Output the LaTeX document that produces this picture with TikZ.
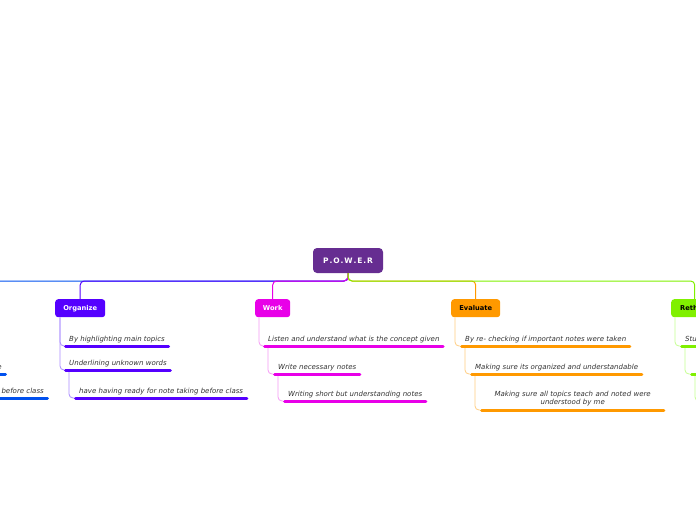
\documentclass[tikz,border=0pt]{standalone}
\usepackage{fontspec}
\setmainfont{DejaVu Sans}
\definecolor{rootc}{HTML}{662D91}
\definecolor{orgc}{HTML}{5500FF}
\definecolor{orgl}{HTML}{A98BFF}
\definecolor{workc}{HTML}{E800E8}
\definecolor{workl}{HTML}{F59AF5}
\definecolor{evalc}{HTML}{FF9900}
\definecolor{evall}{HTML}{FFCC80}
\definecolor{rethc}{HTML}{80F000}
\definecolor{rethl}{HTML}{C4FF90}
\definecolor{prepc}{HTML}{0050EE}
\definecolor{txt}{HTML}{333333}
\tikzset{
  branchbox/.style={rounded corners=3pt, minimum height=18pt, inner xsep=4pt, inner ysep=0pt,
    font=\bfseries\fontsize{6.7}{8}\selectfont, anchor=north west},
  itembase/.style={anchor=south west, inner xsep=5pt, inner ysep=3pt,
    font=\itshape\fontsize{7}{9}\selectfont, text=txt},
  item/.style={itembase, text depth=1.6pt},
  uline/.style={line width=3pt, line cap=round, shorten <=1.5pt, shorten >=1.5pt},
  conn/.style={line width=0.8pt, rounded corners=4pt},
  mainline/.style={line width=1pt, rounded corners=4pt}
}
\begin{document}
\begin{tikzpicture}[x=1pt,y=-1pt]
\useasboundingbox (0,0) rectangle (696,520);
% root
\node[fill=rootc, rounded corners=4pt, minimum width=70pt, minimum height=25pt, inner sep=0pt,
  text=white, font=\bfseries\fontsize{7.5}{9}\selectfont] (root) at (348,260.5)
  {P\kern0.9pt.\kern0.9pt O\kern0.9pt.\kern0.9pt W\kern0.9pt.\kern0.9pt E\kern0.9pt.\kern0.9pt R};
% branch boxes
\node[branchbox, fill=orgc, text=white, minimum width=50pt] (org) at (55,299) {Organize};
\node[branchbox, fill=workc, text=white, minimum width=35pt] (work) at (255,299) {Work};
\node[branchbox, fill=evalc, text=black, minimum width=49pt] (eval) at (451,299) {Evaluate};
\node[branchbox, fill=rethc, text=black, minimum width=47pt] (reth) at (671,299) {Rethink};
\coordinate (fork) at (348,281);
\coordinate (prepend) at (-30,281);
% main connectors (farthest first)
\draw[mainline, prepc] (root.south) -- (fork) -- (prepend);
\draw[mainline, orgc] (root.south) -- (fork) -| (org.north);
\draw[mainline, workc] (root.south) -- (fork) -| (work.north);
\draw[mainline, evalc] (root.south) -- (fork) -| (eval.north);
\draw[mainline, rethc] (root.south) -- (fork) -| (reth.north);
% Organize items
\node[item] (o1) at (64,346) {By highlighting main topics};
\node[item] (o2) at (64,370) {Underlining unknown words};
\node[item] (o3) at (74,398) {have having ready for note taking before class};
\draw[conn, orgl] ([xshift=5pt]org.south west) |- (o1.south west);
\draw[conn, orgl] ([xshift=5pt]org.south west) |- (o2.south west);
\draw[conn, orgl] ([xshift=5pt]o2.south west) |- (o3.south west);
\foreach \n in {o1,o2,o3} \draw[uline, orgc] (\n.south west) -- (\n.south east);
% Work items
\node[item] (w1) at (263,346) {Listen and understand what is the concept given};
\node[item] (w2) at (273,374) {Write necessary notes};
\node[item] (w3) at (283,401) {Writing short but understanding notes};
\draw[conn, workl] ([xshift=4pt]work.south west) |- (w1.south west);
\draw[conn, workl] ([xshift=5pt]w1.south west) |- (w2.south west);
\draw[conn, workl] ([xshift=5pt]w2.south west) |- (w3.south west);
\foreach \n in {w1,w2,w3} \draw[uline, workc] (\n.south west) -- (\n.south east);
% Evaluate items
\node[item] (e1) at (460,346) {By re- checking if important notes were taken};
\node[item] (e2) at (470,374) {Making sure its organized and understandable};
\node[itembase, inner ysep=4pt, text width=175pt, align=center] (e3) at (480,410)
  {Making sure all topics teach and noted were\\[-1.2pt]understood by me};
\draw[conn, evall] ([xshift=4pt]eval.south west) |- (e1.south west);
\draw[conn, evall] ([xshift=5pt]e1.south west) |- (e2.south west);
\draw[conn, evall] ([xshift=5pt]e2.south west) |- (e3.south west);
\foreach \n in {e1,e2,e3} \draw[uline, evalc] (\n.south west) -- (\n.south east);
% Rethink items (cut off at the right edge)
\node[item] (r1) at (680,346) {Studying};
\node[item, minimum width=40pt] (r2) at (690,374) {};
\node[item, minimum width=40pt] (r3) at (700,401) {};
\draw[conn, rethl] ([xshift=4pt]reth.south west) |- (r1.south west);
\draw[conn, rethl] ([xshift=5pt]r1.south west) |- (r2.south west);
\draw[conn, rethl] ([xshift=5pt]r2.south west) |- (r3.south west);
\foreach \n in {r1,r2} \draw[uline, rethc] (\n.south west) -- (\n.south east);
% left branch (cut off at the left edge)
\node[item, anchor=south east] (p1) at (7,374) {e};
\node[item, anchor=south east] (p2) at (49,398) {before class};
\draw[uline, prepc] ([xshift=-20pt]p1.south west) -- (p1.south east);
\draw[uline, prepc] ([xshift=-20pt]p2.south west) -- (p2.south east);
\end{tikzpicture}
\end{document}
